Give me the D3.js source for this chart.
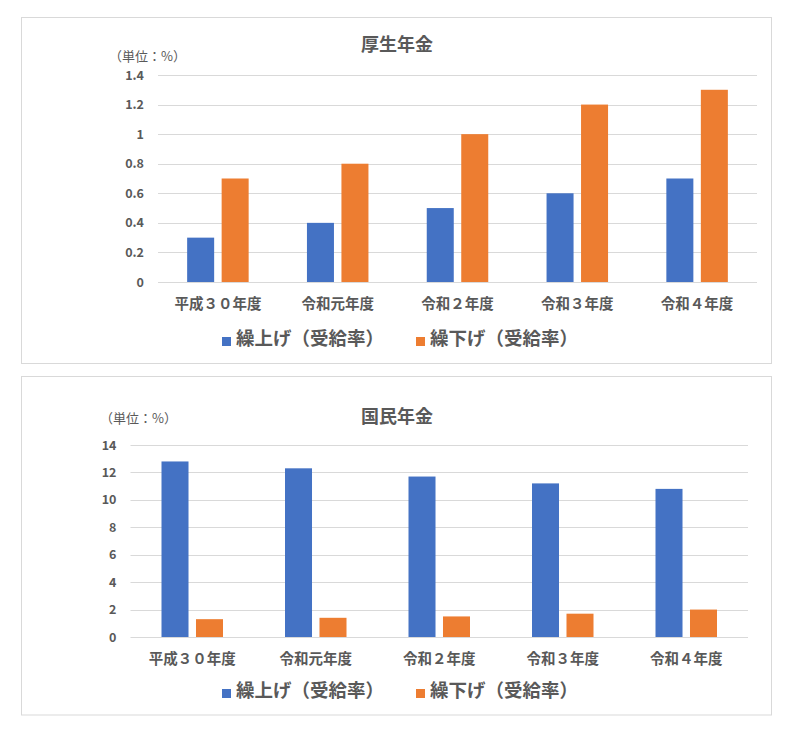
<!DOCTYPE html>
<html>
<head>
<meta charset="utf-8">
<script src="https://cdn.jsdelivr.net/npm/d3@7"></script>
<style>
  html, body { margin: 0; padding: 0; background: #ffffff; }
  svg { display: block; font-family: "Noto Sans CJK JP", "Noto Sans", sans-serif; }
</style>
</head>
<body>
<svg id="chart" width="800" height="731"></svg>
<script>
// ---- data ----
const categories = ["平成３０年度", "令和元年度", "令和２年度", "令和３年度", "令和４年度"];
const seriesNames = ["繰上げ（受給率）", "繰下げ（受給率）"];
const seriesColors = ["#4472C4", "#ED7D31"];

const kouseiTitle = "厚生年金";
const kouseiKuriage = [0.3, 0.4, 0.5, 0.6, 0.7];
const kouseiKurisage = [0.7, 0.8, 1.0, 1.2, 1.3];
const kouseiTicks = [0, 0.2, 0.4, 0.6, 0.8, 1.0, 1.2, 1.4];

const kokuminTitle = "国民年金";
const kokuminKuriage = [12.8, 12.3, 11.7, 11.2, 10.8];
const kokuminKurisage = [1.3, 1.4, 1.5, 1.7, 2.0];
const kokuminTicks = [0, 2, 4, 6, 8, 10, 12, 14];

const unitLabel = "（単位：%）";

// ---- layout ----
const panels = [
  { title: kouseiTitle, values: [kouseiKuriage, kouseiKurisage], ticks: kouseiTicks,
    box: [21.5, 17.5, 750, 346], plotX: [158, 757], plotY: [282, 75],
    titleY: 43, unitX: 109, unitY: 55, catY: 304, legendY: 337 },
  { title: kokuminTitle, values: [kokuminKuriage, kokuminKurisage], ticks: kokuminTicks,
    box: [21.5, 376.5, 750, 338.5], plotX: [130.5, 748], plotY: [637, 445],
    titleY: 415, unitX: 100, unitY: 417, catY: 659, legendY: 689 }
];

const svg = d3.select("#chart");
const textColor = "#595959";
const gridColor = "#D9D9D9";

panels.forEach(p => {
  const g = svg.append("g");
  g.append("rect")
    .attr("x", p.box[0]).attr("y", p.box[1])
    .attr("width", p.box[2]).attr("height", p.box[3])
    .attr("fill", "#fff").attr("stroke", gridColor).attr("stroke-width", 1);

  const x0 = d3.scaleBand().domain(categories).range(p.plotX).paddingInner(0).paddingOuter(0);
  const x1 = d3.scaleBand().domain(seriesNames).range([-30.75, 30.75]).paddingInner(0.217).paddingOuter(0);
  const y = d3.scaleLinear().domain([p.ticks[0], p.ticks[p.ticks.length - 1]]).range(p.plotY);

  // gridlines
  g.append("g").selectAll("line").data(p.ticks).join("line")
    .attr("x1", p.plotX[0]).attr("x2", p.plotX[1])
    .attr("y1", d => Math.round(y(d)) + 0.5).attr("y2", d => Math.round(y(d)) + 0.5)
    .attr("stroke", gridColor).attr("stroke-width", 1);

  // y axis labels
  const yAxis = d3.axisLeft(y).tickValues(p.ticks).tickSize(0).tickPadding(14)
    .tickFormat(d => d3.format("~g")(+d.toFixed(2)));
  const ya = g.append("g").attr("transform", `translate(${p.plotX[0]},0)`).call(yAxis);
  ya.select(".domain").remove();
  ya.selectAll("text").attr("fill", textColor).attr("font-size", 12.5).attr("font-weight", "bold")
    .attr("font-family", "'Noto Sans CJK JP', sans-serif");

  // x axis labels
  const xAxis = d3.axisBottom(x0).tickSize(0).tickPadding(0);
  const xa = g.append("g").attr("transform", `translate(0,${p.catY})`).call(xAxis);
  xa.select(".domain").remove();
  xa.selectAll("text").attr("fill", textColor).attr("font-size", 14.5).attr("font-weight", "bold")
    .attr("dy", "0.35em").attr("font-family", "'Noto Sans CJK JP', sans-serif");

  // bars
  seriesNames.forEach((s, si) => {
    g.append("g").selectAll("rect").data(p.values[si]).join("rect")
      .attr("x", (d, i) => x0(categories[i]) + x0.bandwidth() / 2 + x1(s))
      .attr("width", x1.bandwidth())
      .attr("y", d => y(d))
      .attr("height", d => y(0) - y(d))
      .attr("fill", seriesColors[si]);
  });

  // title
  g.append("text").attr("x", 397).attr("y", p.titleY)
    .attr("text-anchor", "middle").attr("dominant-baseline", "central")
    .attr("font-size", 18).attr("font-weight", "bold").attr("fill", textColor)
    .text(p.title);

  // unit label
  g.append("text").attr("x", p.unitX).attr("y", p.unitY)
    .attr("dominant-baseline", "central")
    .attr("font-size", 13).attr("fill", textColor)
    .text(unitLabel);

  // legend
  const legendX = [222, 416];
  seriesNames.forEach((s, si) => {
    const lg = g.append("g").attr("transform", `translate(${legendX[si]},${p.legendY})`);
    lg.append("rect").attr("x", 0).attr("y", 0).attr("width", 9).attr("height", 9)
      .attr("fill", seriesColors[si]);
    lg.append("text").attr("x", 14).attr("y", 0)
      .attr("dominant-baseline", "central")
      .attr("font-size", 18.5).attr("font-weight", "bold").attr("fill", textColor)
      .text(s);
  });
});
</script>
</body>
</html>
